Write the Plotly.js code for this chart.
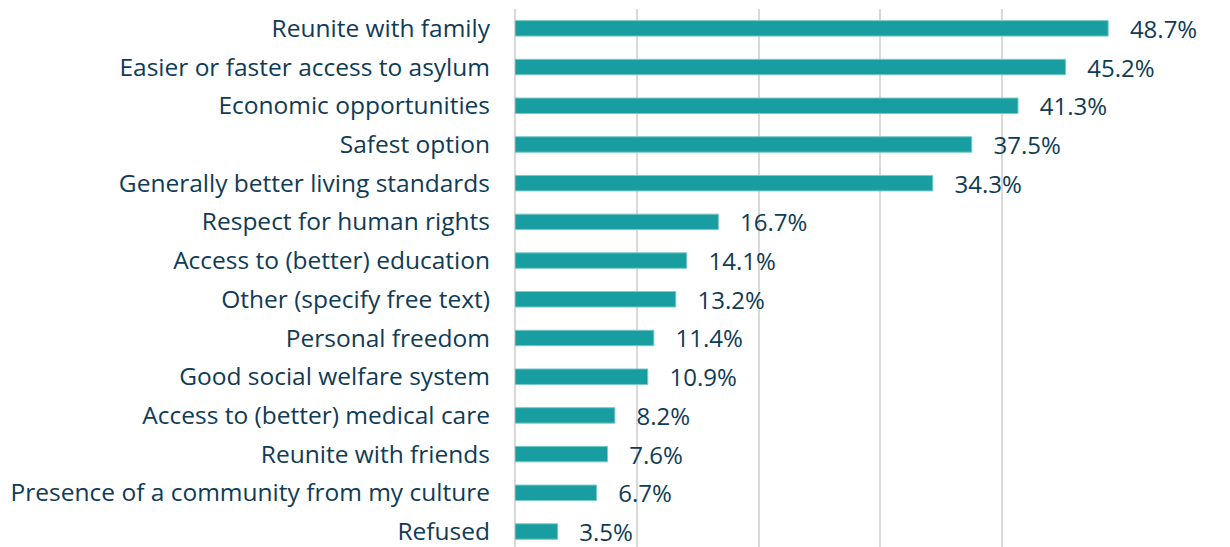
<!DOCTYPE html>
<html>
<head>
<meta charset="utf-8">
<script src="https://cdn.plot.ly/plotly-3.0.1.min.js"></script>
<style>html,body{margin:0;padding:0;overflow:hidden;background:#fff}#chart{width:1230px;height:547px}</style>
</head>
<body>
<div id="chart"></div>
<script>
const categories = [
  "Reunite with family",
  "Easier or faster access to asylum",
  "Economic opportunities",
  "Safest option",
  "Generally better living standards",
  "Respect for human rights",
  "Access to (better) education",
  "Other (specify free text)",
  "Personal freedom",
  "Good social welfare system",
  "Access to (better) medical care",
  "Reunite with friends",
  "Presence of a community from my culture",
  "Refused"
];
const values = [48.7, 45.2, 41.3, 37.5, 34.3, 16.7, 14.1, 13.2, 11.4, 10.9, 8.2, 7.6, 6.7, 3.5];
const valueLabels = values.map(v => "   " + v.toFixed(1) + "%");

const textColor = "#0f3b56";
const fontFamily = "'Open Sans', Lato, sans-serif";

Plotly.newPlot("chart", [{
  type: "bar",
  orientation: "h",
  y: categories,
  x: values,
  text: valueLabels,
  textposition: "outside",
  constraintext: "none",
  cliponaxis: false,
  textfont: {family: fontFamily, size: 24, color: textColor},
  marker: {color: "#189da0", line: {color: "#7cc9cb", width: 1}},
  hoverinfo: "none"
}], {
  width: 1230,
  height: 547,
  margin: {l: 515, r: 106, t: 9, b: 0},
  paper_bgcolor: "#ffffff",
  plot_bgcolor: "#ffffff",
  showlegend: false,
  bargap: 0.6,
  xaxis: {
    range: [0, 50],
    dtick: 10,
    showticklabels: false,
    showgrid: true,
    gridcolor: "#d9d9d9",
    gridwidth: 2,
    zeroline: true,
    zerolinecolor: "#d9d9d9",
    zerolinewidth: 2,
    fixedrange: true
  },
  yaxis: {
    type: "category",
    range: [13.4, -0.5],
    tickfont: {family: fontFamily, size: 24.5, color: textColor},
    ticklabelstandoff: 24,
    ticks: "",
    showgrid: false,
    zeroline: false,
    fixedrange: true
  }
}, {displayModeBar: false, staticPlot: true});
</script>
</body>
</html>
